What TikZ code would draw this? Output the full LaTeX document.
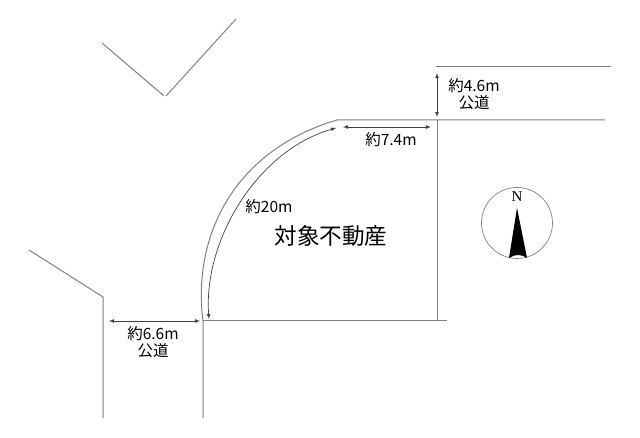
\documentclass[tikz,border=0pt]{standalone}
\usepackage{fontspec}
\setmainfont{Noto Sans CJK JP}
\usetikzlibrary{arrows}
\definecolor{linegray}{gray}{0.5}
\tikzset{
	wall/.style={draw=linegray, line width=1pt},
	dim/.style={draw=black!75, line width=0.7pt, >=latex, <->},
	lab/.style={font=\fontsize{15.5}{15.5}\selectfont, inner sep=0pt},
	titlelab/.style={font=\fontsize{22.6}{22.6}\selectfont, inner sep=0pt}
}
\begin{document}
\begin{tikzpicture}[x=1pt,y=-1pt]
\useasboundingbox (0,0) rectangle (640,438);
% boundary points
\coordinate (c0) at (102,43);
\coordinate (c1) at (164,96);
\coordinate (c2) at (166,96);
\coordinate (c3) at (236,19);
\coordinate (l0) at (29,250);
\coordinate (l1) at (103,297);
\coordinate (l2) at (103,418);
\coordinate (r0) at (203,418);
\coordinate (r1) at (203,321);
\coordinate (r2) at (337,120);
\coordinate (s0) at (437,120);
\coordinate (s1) at (605,120);
\coordinate (s2) at (437,321);
\coordinate (s3) at (447,321);
\coordinate (t0) at (436,67);
\coordinate (t1) at (611,67);
\draw[wall] (c0) -- (c1);
\draw[wall] (c2) -- (c3);
\draw[wall] (l0) -- (l1) -- (l2);
\draw[wall] (r0) -- (r1) .. controls (192,235) and (235,150) .. (r2) -- (s0) -- (s1);
\draw[wall] (s0) -- (s2);
\draw[wall] (r1) -- (s3);
\draw[wall] (t0) -- (t1);
% dimensions
\coordinate (a0) at (437,73);
\coordinate (a1) at (437,117);
\coordinate (b0) at (343,127);
\coordinate (b1) at (431,127);
\coordinate (d0) at (109,321);
\coordinate (d1) at (200,321);
\coordinate (e0) at (209,319);
\coordinate (e1) at (336,128);
\draw[dim] (a0) -- (a1);
\draw[dim] (b0) -- (b1);
\draw[dim] (d0) -- (d1);
\draw[dim] (e0) .. controls (203,240) and (258,150) .. (e1);
% labels
\node[lab] (w46) at (474,86) {約4.6m};
\node[lab] (r46) at (474,103) {公道};
\node[lab] (w74) at (391,140) {約7.4m};
\node[lab] (w20) at (269,207) {約20m};
\node[lab] (w66) at (153,334) {約6.6m};
\node[lab] (r66) at (153,351) {公道};
\node[titlelab] (name) at (331,236) {対象不動産};
% compass
\node[draw=linegray, line width=0.7pt, circle, minimum size=71pt, inner sep=0pt] (ring) at (517,223) {};
\node[inner sep=0pt, font=\fontsize{15}{15}\selectfont] (north) at (517,197) {\fontspec{Liberation Serif}N};
\coordinate (n0) at (517,208);
\coordinate (n1) at (527,258);
\coordinate (n2) at (509,258);
\fill (n0) -- (n1) .. controls (521,254) and (515,254) .. (n2) -- cycle;
\end{tikzpicture}
\end{document}
